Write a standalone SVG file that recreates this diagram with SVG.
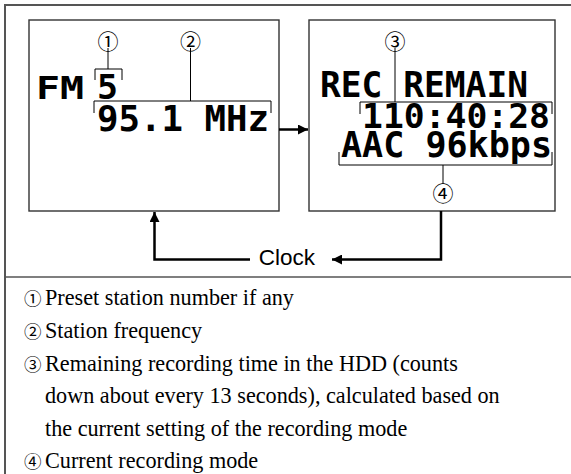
<svg xmlns="http://www.w3.org/2000/svg" width="571" height="474" viewBox="0 0 571 474">
<defs>
<style>
.frame{fill:none;stroke:#555;stroke-width:2}
.box{fill:#fff;stroke:#333;stroke-width:1.4}
.lcd{font-family:"DejaVu Sans Mono","Liberation Mono",monospace;font-weight:bold;fill:#000}
.thin{fill:none;stroke:#000;stroke-width:1}
.circ{font-family:"Noto Sans CJK JP",sans-serif;font-size:21px;fill:#000}
.conn{fill:none;stroke:#000;stroke-width:2.5}
.leg{font-family:"Liberation Serif","Times New Roman",serif;font-size:22.2px;fill:#000}
.legc{font-family:"Noto Sans CJK JP",sans-serif;font-size:17.5px}
</style>
<marker id="ah" viewBox="0 0 10 10" refX="10" refY="5" markerWidth="13" markerHeight="10" markerUnits="userSpaceOnUse" orient="auto">
<path d="M0,0 L10,5 L0,10 z" fill="#000"/>
</marker>
</defs>
<rect width="571" height="474" fill="#fff"/>
<g id="frame">
<path class="frame" d="M5,474 V5 H571"/>
<line x1="5" y1="277" x2="571" y2="277" stroke="#555" stroke-width="1.5"/>
</g>
<g id="screen-fm">
<rect class="box" x="29" y="20" width="250" height="191"/>
<text class="lcd" x="36" y="99" font-size="32" textLength="48" lengthAdjust="spacingAndGlyphs">FM</text>
<text class="lcd" x="97" y="99" font-size="33" textLength="21" lengthAdjust="spacingAndGlyphs">5</text>
<text class="lcd" x="97" y="131" font-size="36" textLength="172" lengthAdjust="spacingAndGlyphs">95.1 MHz</text>
<path class="thin" d="M95,80 V69 H122 V80 M108,69 V48"/>
<path class="thin" d="M94,113 V101 H271 V113 M190.5,101 V48"/>
<text class="circ" x="108" y="48.5" text-anchor="middle">①</text>
<text class="circ" x="190.5" y="48.5" text-anchor="middle">②</text>
</g>
<g id="screen-rec">
<rect class="box" x="309" y="20" width="246" height="191"/>
<text class="lcd" x="320" y="97" font-size="35" textLength="208" lengthAdjust="spacingAndGlyphs">REC REMAIN</text>
<text class="lcd" x="362" y="128" font-size="34" textLength="188" lengthAdjust="spacingAndGlyphs">110:40:28</text>
<text class="lcd" x="341" y="157" font-size="35" textLength="211" lengthAdjust="spacingAndGlyphs">AAC 96kbps</text>
<path class="thin" d="M360,114 V102 H552 V114 M395,102 V48"/>
<path class="thin" d="M339,152 V165 H552 V152 M443,165 V184"/>
<text class="circ" x="395" y="48.5" text-anchor="middle">③</text>
<text class="circ" x="443" y="200.5" text-anchor="middle">④</text>
</g>
<g id="clock-label">
<text x="287" y="265" font-family="Liberation Sans, Arial, sans-serif" font-size="22.5" text-anchor="middle">Clock</text>
</g>
<g id="connectors">
<line x1="279" y1="129.5" x2="308" y2="129.5" stroke="#000" stroke-width="2.5" marker-end="url(#ah)"/>
<path class="conn" d="M441,211 V259.5 H332" marker-end="url(#ah)"/>
<path class="conn" d="M250,259.5 H154.5 V212" marker-end="url(#ah)"/>
</g>
<g id="legend" class="leg">
<text x="24" y="305"><tspan class="legc">①</tspan><tspan x="45">Preset station number if any</tspan></text>
<text x="24" y="338"><tspan class="legc">②</tspan><tspan x="45">Station frequency</tspan></text>
<text x="24" y="371"><tspan class="legc">③</tspan><tspan x="45">Remaining recording time in the HDD (counts</tspan></text>
<text x="45" y="403">down about every 13 seconds), calculated based on</text>
<text x="45" y="436">the current setting of the recording mode</text>
<text x="24" y="468"><tspan class="legc">④</tspan><tspan x="45">Current recording mode</tspan></text>
</g>
</svg>
